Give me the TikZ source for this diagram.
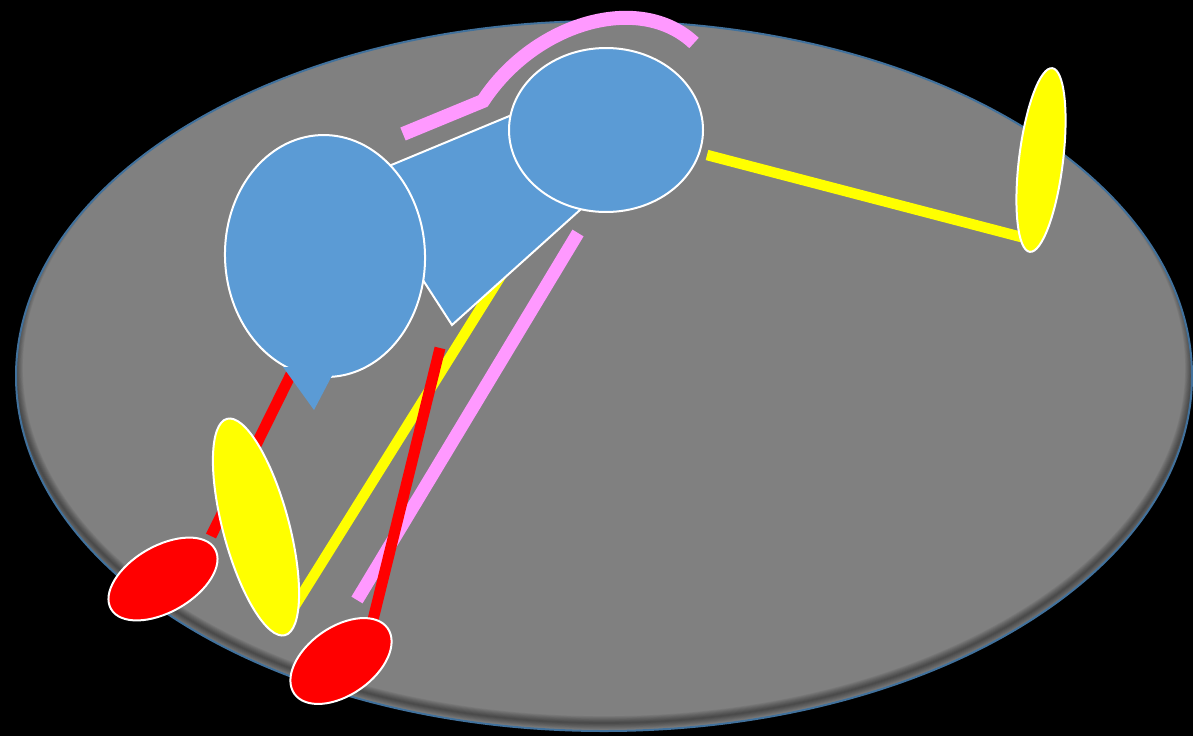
\documentclass[tikz,border=0pt]{standalone}
\usetikzlibrary{calc}
\definecolor{bgray}{HTML}{808080}
\definecolor{rimblue}{HTML}{41719C}
\definecolor{shblue}{HTML}{5B9BD5}
\definecolor{pyellow}{HTML}{FFFF00}
\definecolor{pred}{HTML}{FF0000}
\definecolor{ppink}{HTML}{FF99FF}
\tikzset{
  yline/.style={draw=pyellow, line width=10.5pt},
  pline/.style={draw=ppink, line width=13pt},
  rline/.style={draw=pred, line width=11pt},
  blueshape/.style={fill=shblue, draw=white, line width=2pt},
  yellowpad/.style={fill=pyellow, draw=white, line width=2pt},
  redpad/.style={fill=pred, draw=white, line width=2pt}
}
\begin{document}
\begin{tikzpicture}[x=1pt,y=-1pt]
\fill[black] (0,0) rectangle (1193,736);
\useasboundingbox (0,0) rectangle (1193,736);
% ground ellipse
\fill[bgray] (604,376) ellipse [x radius=588, y radius=355];
\begin{scope}
  \clip (604,376) ellipse [x radius=588, y radius=355];
  \foreach \i in {1,...,8}{
    \draw[black, opacity=0.06, line width=\i*1.7pt] (604,368) ellipse [x radius=588, y radius=355];
  }
\end{scope}
\draw[rimblue, line width=2pt] (604,376) ellipse [x radius=588, y radius=355];
% limbs
\coordinate (yr1) at (707,155); \coordinate (yr2) at (1025,238);
\coordinate (yl1) at (512,258); \coordinate (yl2) at (291,612);
\coordinate (p1) at (578,233); \coordinate (p2) at (357,600);
\coordinate (rm1) at (440,348); \coordinate (rm2) at (368,640);
\coordinate (rl1) at (302,352); \coordinate (rl2) at (211,536);
\draw[yline] (yr1) -- (yr2);
\draw[yline] (yl1) -- (yl2);
\draw[pline] (p1) -- (p2);
\draw[rline] (rl1) -- (rl2);
\draw[rline] (rm1) -- (rm2);
% pink arc
\coordinate (pa1) at (403,134); \coordinate (pa2) at (483,101); \coordinate (pa3) at (694,43);
\draw[pline, line width=14pt] (pa1) -- (pa2) .. controls (535,22) and (640,-8) .. (pa3);
% body
\filldraw[blueshape, line join=miter] (360,178) -- (560,95) -- (600,192) -- (452,325) -- (410,260) -- cycle;
\filldraw[blueshape, rotate around={2:(325,256)}] (325,256) ellipse [x radius=100, y radius=121];
\fill[shblue] (283,367) -- (336,368) -- (314,410) -- cycle;
\filldraw[blueshape] (606,130) ellipse [x radius=97, y radius=82];
% pads
\filldraw[yellowpad, rotate around={-7:(1041,160)}] (1041,160) ellipse [x radius=22, y radius=92.5];
\filldraw[yellowpad, rotate around={15:(256,527)}] (256,527) ellipse [x radius=33, y radius=112];
\filldraw[redpad, rotate around={30:(163,579)}] (163,579) ellipse [x radius=60, y radius=33];
\filldraw[redpad, rotate around={35:(341,661)}] (341,661) ellipse [x radius=57, y radius=34];
\end{tikzpicture}
\end{document}
